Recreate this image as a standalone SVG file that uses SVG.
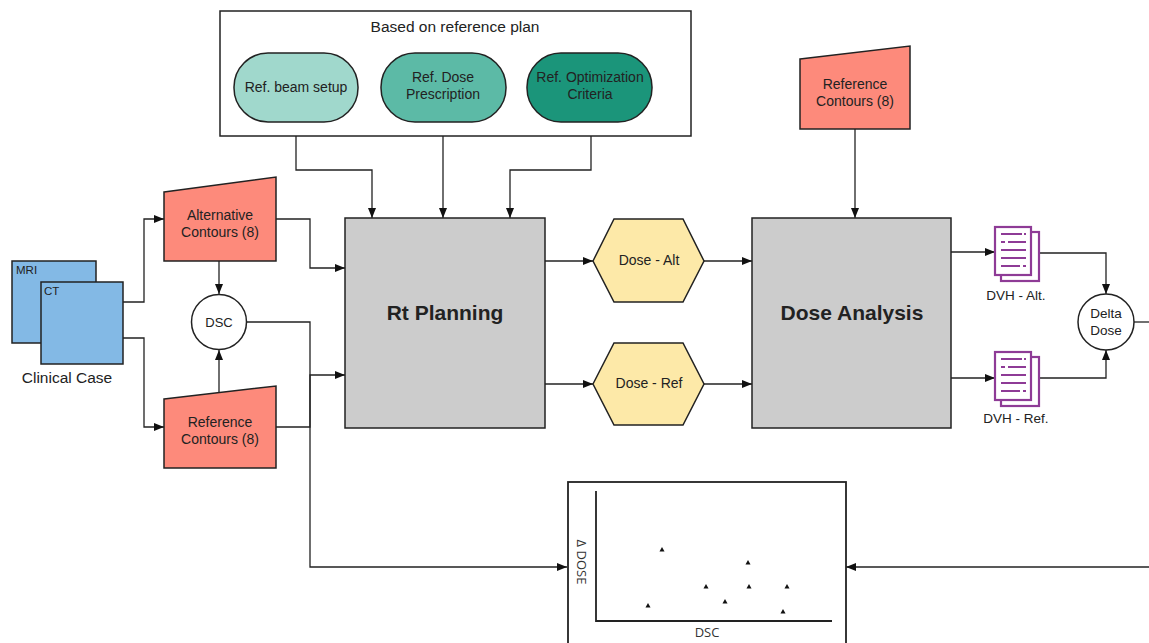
<svg xmlns="http://www.w3.org/2000/svg" width="1149" height="643" viewBox="0 0 1149 643">
<defs>
<marker id="arr" viewBox="0 0 10 10" refX="10" refY="5" markerWidth="10" markerHeight="10" markerUnits="userSpaceOnUse" orient="auto">
<path d="M0,1 L10,5 L0,9 Z" fill="#111"/>
</marker>
<style>
.t{font-family:"Liberation Sans",Arial,sans-serif;fill:#222;text-anchor:middle}
.s14{font-size:14px}
.s13{font-size:13.5px}
.big{font-size:21px;font-weight:bold}
.ln{fill:none;stroke:#222;stroke-width:1.3}
.la{fill:none;stroke:#222;stroke-width:1.3;marker-end:url(#arr)}
.node{stroke:#222;stroke-width:1.5}
.doc{fill:#fff;stroke:#8e3b96;stroke-width:2.2}
.dl{stroke:#8e3b96;stroke-width:2.2}
.sc{font-family:"Open Sans","Liberation Sans",sans-serif;fill:#333;text-anchor:middle;font-size:13px}
</style>
</defs>
<rect width="1149" height="643" fill="#fff"/>

<g id="connectors">
<path class="la" d="M296,122 V170 H372 V218"/>
<path class="la" d="M443,122 V218"/>
<path class="la" d="M591,122 V170 H510 V218"/>
<path class="la" d="M855,129 V218"/>
<path class="la" d="M123,302 H144 V219 H164"/>
<path class="la" d="M123,338 H144 V427 H164"/>
<path class="la" d="M219,261 V294"/>
<path class="la" d="M219,393 V350"/>
<path class="la" d="M276,219 H310 V268 H345"/>
<path class="la" d="M276,427 H310 V375 H345"/>
<path class="la" d="M247,322 H310 V567 H567"/>
<path class="la" d="M545,261 H593"/>
<path class="la" d="M545,384 H593"/>
<path class="la" d="M704,261 H752"/>
<path class="la" d="M704,384 H752"/>
<path class="la" d="M951,252 H995"/>
<path class="la" d="M951,378 H995"/>
<path class="la" d="M1039,253 H1106 V294"/>
<path class="la" d="M1039,378 H1106 V350"/>
<path class="ln" d="M1134,322 H1149"/>
<path class="la" d="M1149,567 H846"/>
</g>

<g id="reference-plan">
<rect x="220" y="11" width="471" height="125" fill="#fff" stroke="#222" stroke-width="1.5"/>
<text class="t" style="font-size:15.5px" x="455" y="32">Based on reference plan</text>
</g>
<g id="ref-beam-setup">
<rect class="node" x="234" y="53" width="124" height="69" rx="34" fill="#a0d8cc"/>
<text class="t s14" x="296" y="92">Ref. beam setup</text>
</g>
<g id="ref-dose-prescription">
<rect class="node" x="381" y="53" width="125" height="69" rx="34" fill="#5cbaa6"/>
<text class="t s14" x="443" y="82">Ref. Dose</text>
<text class="t s14" x="443" y="99">Prescription</text>
</g>
<g id="ref-optimization-criteria">
<rect class="node" x="527" y="53" width="125" height="69" rx="34" fill="#1b957a"/>
<text class="t s14" x="590" y="82">Ref. Optimization</text>
<text class="t s14" x="590" y="99">Criteria</text>
</g>

<g id="clinical-case">
<rect class="node" x="12" y="261" width="84" height="82" fill="#83b9e5"/>
<rect class="node" x="41" y="282" width="82" height="82" fill="#83b9e5"/>
<text class="t" style="font-size:11.5px;text-anchor:start" x="16" y="274">MRI</text>
<text class="t" style="font-size:11.5px;text-anchor:start" x="44" y="295">CT</text>
<text class="t" style="font-size:15.5px" x="67" y="383">Clinical Case</text>
</g>

<g id="alternative-contours">
<polygon class="node" points="164,192 276,177 276,261 164,261" fill="#fd8a7b"/>
<text class="t s14" x="220" y="220">Alternative</text>
<text class="t s14" x="220" y="237">Contours (8)</text>
</g>
<g id="reference-contours-left">
<polygon class="node" points="164,399 276,386 276,468 164,468" fill="#fd8a7b"/>
<text class="t s14" x="220" y="427">Reference</text>
<text class="t s14" x="220" y="444">Contours (8)</text>
</g>
<g id="dsc">
<circle cx="219" cy="322" r="27.5" fill="#fff" stroke="#222" stroke-width="1.5"/>
<text class="t" style="font-size:13px" x="219" y="327">DSC</text>
</g>

<g id="rt-planning">
<rect class="node" x="345" y="218" width="200" height="210" fill="#cccccc"/>
<text class="t big" x="445" y="320">Rt Planning</text>
</g>
<g id="dose-alt">
<polygon class="node" points="593,261 614,219 683,219 704,261 683,302 614,302" fill="#fde9a8"/>
<text class="t s14" x="649" y="265">Dose - Alt</text>
</g>
<g id="dose-ref">
<polygon class="node" points="593,384 614,343 683,343 704,384 683,425 614,425" fill="#fde9a8"/>
<text class="t s14" x="649" y="388">Dose - Ref</text>
</g>
<g id="reference-contours-top">
<polygon class="node" points="800,59 910,46 910,129 800,129" fill="#fd8a7b"/>
<text class="t s14" x="855" y="89">Reference</text>
<text class="t s14" x="855" y="106">Contours (8)</text>
</g>
<g id="dose-analysis">
<rect class="node" x="752" y="218" width="199" height="210" fill="#cccccc"/>
<text class="t big" x="852" y="320">Dose Analysis</text>
</g>

<g id="dvh-alt">
<rect class="doc" x="1001" y="232" width="38" height="49"/>
<rect class="doc" x="995" y="227" width="36" height="48"/>
<path class="dl" d="M1001,234 H1022 M1024,234 H1026 M1001,242 H1005 M1008,242 H1026 M1001,250 H1026 M1001,258 H1026 M1001,266 H1020 M1023,266 H1026"/>
<text class="t s13" x="1016" y="300">DVH - Alt.</text>
</g>
<g id="dvh-ref">
<rect class="doc" x="1001" y="357" width="38" height="49"/>
<rect class="doc" x="995" y="352" width="36" height="48"/>
<path class="dl" d="M1001,359 H1022 M1024,359 H1026 M1001,367 H1005 M1008,367 H1026 M1001,375 H1026 M1001,383 H1026 M1001,391 H1020 M1023,391 H1026"/>
<text class="t s13" x="1016" y="423">DVH - Ref.</text>
</g>
<g id="delta-dose">
<circle cx="1106" cy="322" r="28" fill="#fff" stroke="#222" stroke-width="1.5"/>
<text class="t s13" x="1106" y="318">Delta</text>
<text class="t s13" x="1106" y="335">Dose</text>
</g>

<g id="scatter-plot">
<rect x="568" y="482" width="278" height="175" fill="#fff" stroke="#222" stroke-width="1.8"/>
<path d="M596,491 V621 H832" fill="none" stroke="#222" stroke-width="1.8"/>
<text class="sc" transform="translate(577,562) rotate(90)">Δ DOSE</text>
<text class="sc" x="707" y="637">DSC</text>
<g fill="#111">
<path d="M662,547 l2.5,4.5 h-5 z"/>
<path d="M748,560 l2.5,4.5 h-5 z"/>
<path d="M706,584 l2.5,4.5 h-5 z"/>
<path d="M749,584 l2.5,4.5 h-5 z"/>
<path d="M787,584 l2.5,4.5 h-5 z"/>
<path d="M725,599 l2.5,4.5 h-5 z"/>
<path d="M648,603 l2.5,4.5 h-5 z"/>
<path d="M783,609 l2.5,4.5 h-5 z"/>
</g>
</g>
</svg>
